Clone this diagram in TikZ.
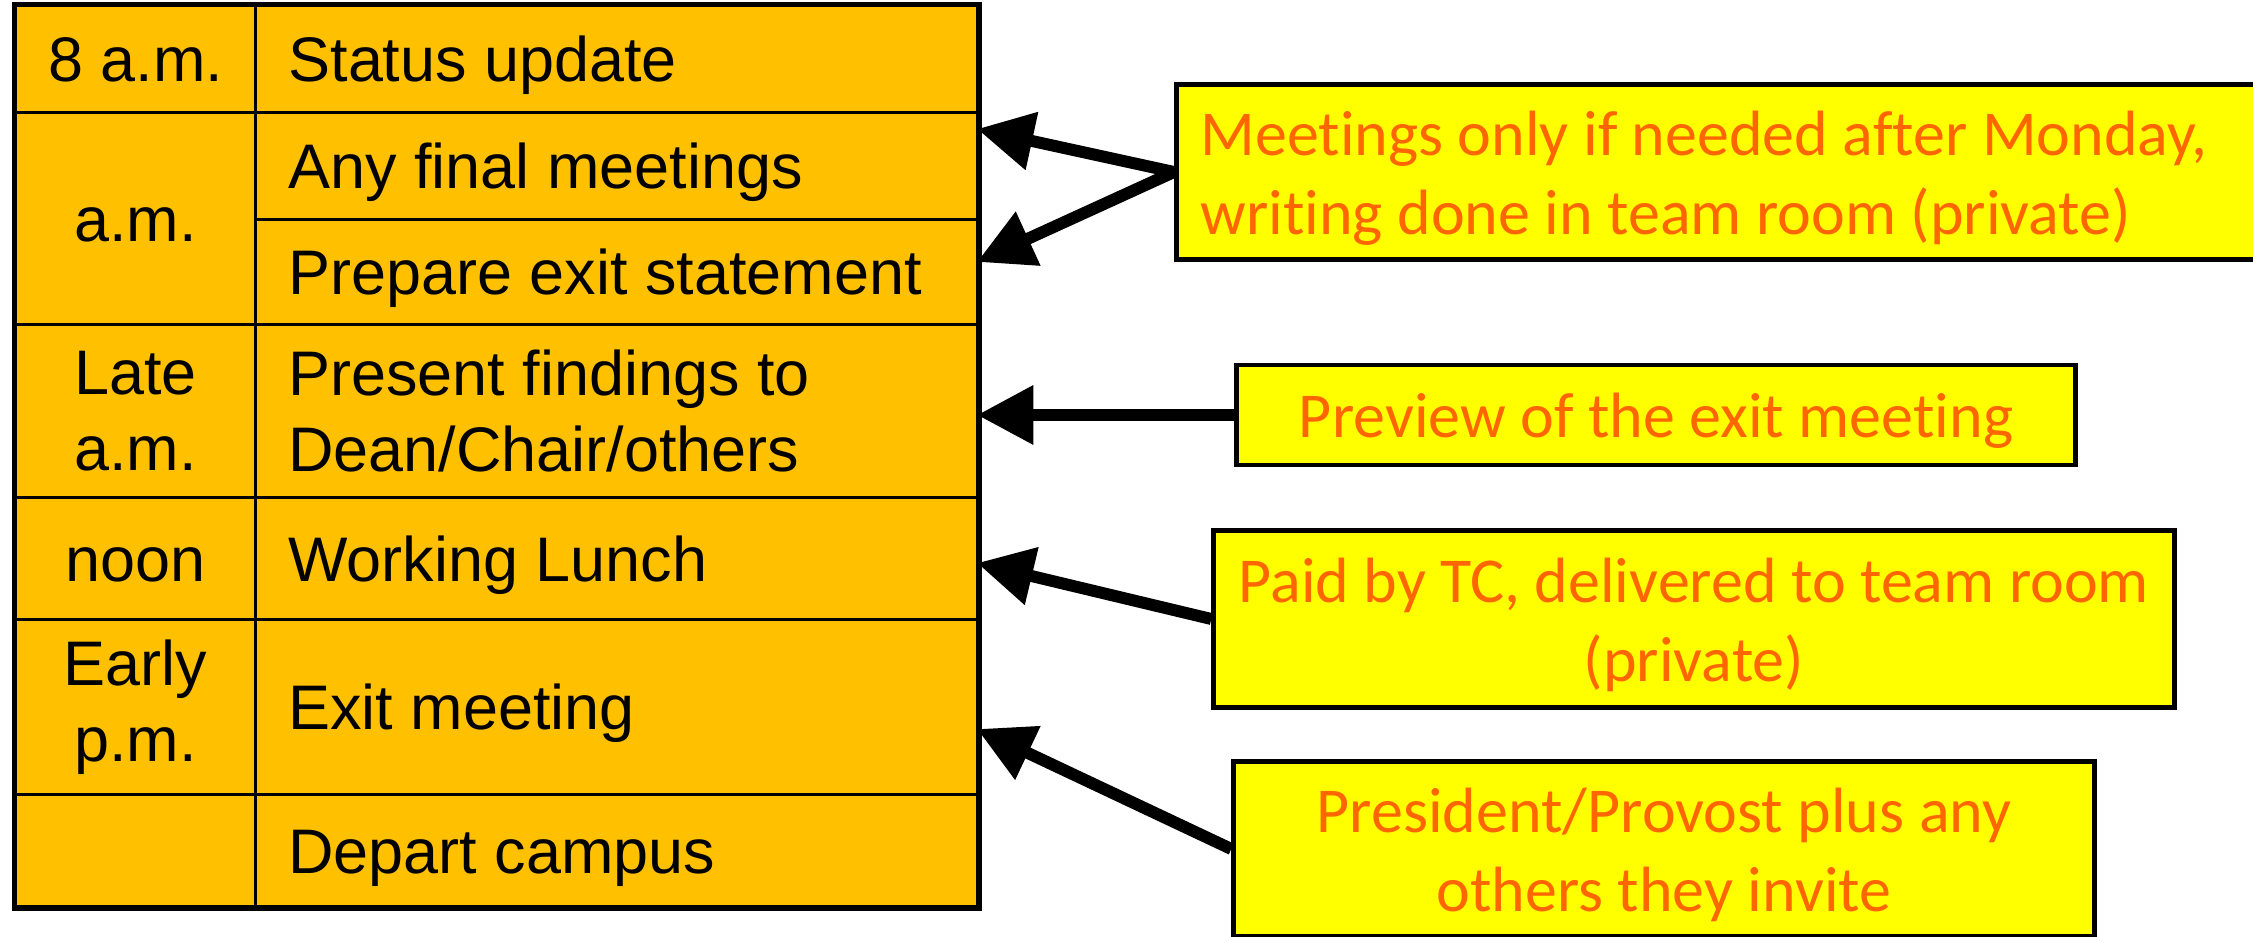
\documentclass[tikz,border=0pt]{standalone}
\usepackage{fontspec}
\setmainfont{Liberation Sans}
\newfontfamily\calibrifont{Carlito}[Ligatures=CommonOff]
\usetikzlibrary{positioning}
\usetikzlibrary{arrows.meta}

\definecolor{gold}{HTML}{FFC000}
\definecolor{yellowbox}{HTML}{FFFF00}
\definecolor{orangetext}{HTML}{FF6600}

\begin{document}
\begin{tikzpicture}[x=0.01cm,y=-0.01cm,
  time/.style={draw=black,line width=0.85pt,fill=gold,anchor=north west,minimum width=2.4cm,inner sep=0pt,align=center,font=\fontsize{17.9}{21.6}\selectfont},
  task/.style={draw=black,line width=0.85pt,fill=gold,anchor=north west,minimum width=7.22cm,text width=6.56cm,inner xsep=0.33cm,inner ysep=0pt,align=flush left,font=\fontsize{17.9}{21.6}\selectfont},
  oneline/.style={text height=17pt,text depth=4pt},
  remark/.style={draw=black,line width=1.4pt,fill=yellowbox,text=orangetext,inner sep=0pt,align=flush center,text height=16pt,font=\calibrifont\fontsize{18.2}{22.5}\selectfont},
  pointer/.style={line width=3.4pt,-{Triangle[length=16pt,width=16pt]}}]

\useasboundingbox (0,0) rectangle (2253,937);

% time column
\node[time,oneline,minimum height=1.07cm] (t1) at (14,4) {8 a.m.};
\node[time,oneline,minimum height=2.12cm] (t2) at (14,111) {a.m.};
\node[time,minimum height=1.73cm] (t3) at (14,323) {Late\\a.m.};
\node[time,oneline,minimum height=1.22cm] (t4) at (14,496) {noon};
\node[time,minimum height=1.75cm] (t5) at (14,618) {Early\\p.m.};
\node[time,minimum height=1.12cm] (t6) at (14,793) {};

% task column
\node[task,oneline,minimum height=1.07cm] (k1) at (254,4) {Status update};
\node[task,oneline,minimum height=1.07cm] (k2) at (254,111) {Any final meetings};
\node[task,oneline,minimum height=1.05cm] (k3) at (254,218) {Prepare exit statement};
\node[task,minimum height=1.73cm] (k4) at (254,323) {Present findings to\\Dean/Chair/others};
\node[task,oneline,minimum height=1.22cm] (k5) at (254,496) {Working Lunch};
\node[task,oneline,minimum height=1.75cm] (k6) at (254,618) {Exit meeting};
\node[task,oneline,minimum height=1.12cm] (k7) at (254,793) {Depart campus};

\draw[line width=1.4pt] (t1.north west) rectangle (k7.south east);

% arrow tips on the table edge
\coordinate (tipA) at (977,129);
\coordinate (tipB) at (977,262);
\coordinate (tipC) at (977,415);
\coordinate (tipD) at (977,563);
\coordinate (tipE) at (977,729);

% remarks
\node[remark,anchor=west,minimum width=10.8cm,minimum height=1.74cm,text width=10.32cm,inner xsep=0.24cm,align=flush left] (n1) at (1174,172) {Meetings only if needed after Monday,\\writing done in team room (private)};
\node[remark,minimum width=8.39cm,minimum height=1.0cm] (n2) at (1656,415) {Preview of the exit meeting};
\node[remark,text width=9.6cm,minimum height=1.76cm] (n3) at (1694,619) {Paid by TC, delivered to team room\\(private)};
\node[remark,text width=8.6cm,minimum height=1.74cm] (n4) at (1664,849) {President/Provost plus any\\others they invite};

\draw[pointer] (n1.west) -- (tipA);
\draw[pointer] (n1.west) -- (tipB);
\draw[pointer] (n2.west) -- (tipC);
\draw[pointer] (n3.west) -- (tipD);
\draw[pointer] (n4.west) -- (tipE);

\end{tikzpicture}
\end{document}
